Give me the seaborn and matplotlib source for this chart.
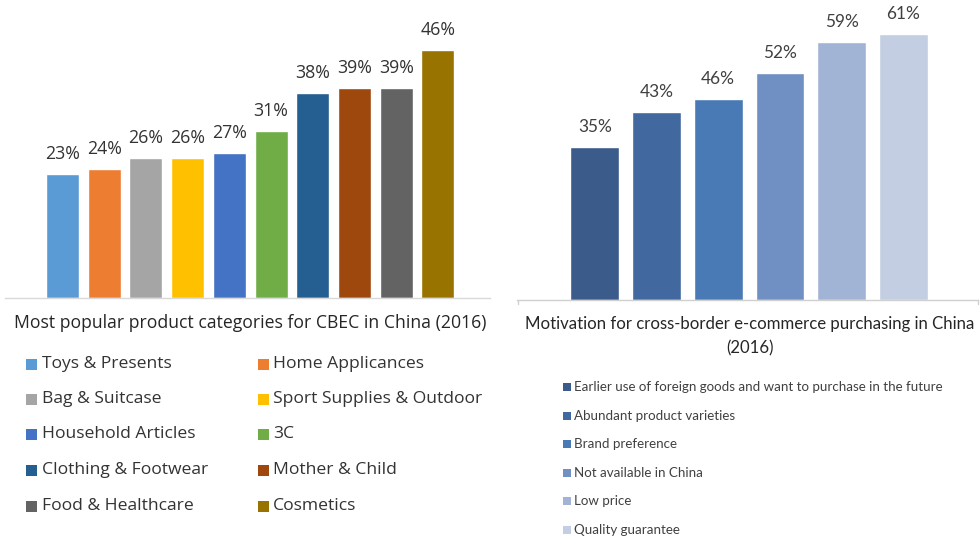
import matplotlib
matplotlib.use("Agg")
import matplotlib.pyplot as plt
import seaborn as sns
import pandas as pd
from matplotlib.patches import Rectangle

# Product categories for CBEC in China (2016), share of buyers in %
categories = ["Toys & Presents", "Home Applicances", "Bag & Suitcase",
              "Sport Supplies & Outdoor", "Household Articles", "3C",
              "Clothing & Footwear", "Mother & Child", "Food & Healthcare",
              "Cosmetics"]
category_share = [23, 24, 26, 26, 27, 31, 38, 39, 39, 46]
category_colors = ["#5B9BD5", "#ED7D31", "#A5A5A5", "#FFC000", "#4472C4",
                   "#70AD47", "#255E91", "#9E480E", "#636363", "#997300"]

# Motivations for cross-border purchasing (2016), share in %
motivations = ["Earlier use of foreign goods and want to purchase in the future",
               "Abundant product varieties", "Brand preference",
               "Not available in China", "Low price", "Quality guarantee"]
motivation_share = [35, 43, 46, 52, 59, 61]
motivation_colors = ["#3B5B8B", "#41699F", "#4A7AB5", "#7090C3",
                     "#A2B4D6", "#C3CEE3"]

left_title = "Most popular product categories for CBEC in China (2016)"
right_title = ["Motivation for cross-border e-commerce purchasing in China",
               "(2016)"]

W, H = 980, 539
sns.set_theme(style="white")
plt.rcParams["font.family"] = ["Open Sans", "DejaVu Sans"]
LATO = ["Lato", "DejaVu Sans"]

fig = plt.figure(figsize=(W / 100, H / 100), dpi=100)
fig.patch.set_facecolor("white")


def px_axes(x0, y0, x1, y1):
    """Axes placed by pixel box (top-left origin)."""
    return fig.add_axes([x0 / W, 1 - y1 / H, (x1 - x0) / W, (y1 - y0) / H])


def style_axes(ax, line_color):
    ax.set_xlabel("")
    ax.set_ylabel("")
    ax.set_xticks([])
    ax.set_yticks([])
    for side in ("top", "left", "right"):
        ax.spines[side].set_visible(False)
    ax.spines["bottom"].set_color(line_color)
    ax.spines["bottom"].set_linewidth(1.0)
    ax.patch.set_alpha(0)


# ---- left chart ----
df_left = pd.DataFrame({"category": categories, "share": category_share})
axl = px_axes(5, 0, 490, 298)
sns.barplot(data=df_left, x="category", y="share", hue="category",
            order=categories, hue_order=categories, palette=category_colors,
            saturation=1, width=0.79, legend=False, ax=axl)
axl.set_xlim(-1.38, 10.25)
axl.set_ylim(0, 55.3)
style_axes(axl, "#D9D9D9")
for i, v in enumerate(category_share):
    axl.annotate(f"{v}%", (i, v), xytext=(0, 20), textcoords="offset pixels",
                 ha="center", va="center", fontsize=12.8, color="#333333")

# ---- right chart ----
df_right = pd.DataFrame({"motivation": motivations, "share": motivation_share})
axr = px_axes(517, 0, 978, 299.5)
sns.barplot(data=df_right, x="motivation", y="share", hue="motivation",
            order=motivations, hue_order=motivations, palette=motivation_colors,
            saturation=1, width=0.79, legend=False, ax=axr)
axr.set_xlim(-1.26, 6.21)
axr.set_ylim(0, 68.7)
style_axes(axr, "#D0D0D0")
for i, v in enumerate(motivation_share):
    axr.annotate(f"{v}%", (i, v), xytext=(0, 20), textcoords="offset pixels",
                 ha="center", va="center", fontsize=12.4, color="#404040",
                 family=LATO)

# ---- titles and legends on a pixel overlay ----
ov = fig.add_axes([0, 0, 1, 1])
ov.set_xlim(0, W)
ov.set_ylim(H, 0)
ov.axis("off")
ov.patch.set_alpha(0)

# small end caps of the right frame
for x in (517.5, 977.5):
    ov.plot([x, x], [299.5, 304], color="#D0D0D0", lw=1.0)

ov.text(250, 323, left_title, ha="center", va="center", fontsize=12.7,
        color="#262626")

left_rows = [364, 399, 434, 470, 506]
left_cols = [(26, 42), (258, 273)]
for k, (name, col) in enumerate(zip(categories, category_colors)):
    r, c = divmod(k, 2)
    sx, tx = left_cols[c]
    y = left_rows[r]
    ov.add_patch(Rectangle((sx, y - 5.5), 11, 11, facecolor=col,
                           edgecolor="none"))
    ov.text(tx, y, name, ha="left", va="center", fontsize=12.6,
            color="#333333")

for line, y in zip(right_title, (324, 348)):
    ov.text(750, y, line, ha="center", va="center", fontsize=12.05,
            color="#262626", family=LATO)

right_rows = [387, 416, 444, 473, 501, 530]
for name, col, y in zip(motivations, motivation_colors, right_rows):
    ov.add_patch(Rectangle((563, y - 4), 8, 8, facecolor=col,
                           edgecolor="none"))
    ov.text(574, y, name, ha="left", va="center", fontsize=9.6,
            color="#404040", family=LATO)

fig.savefig("out.png", dpi=100, facecolor="white")
